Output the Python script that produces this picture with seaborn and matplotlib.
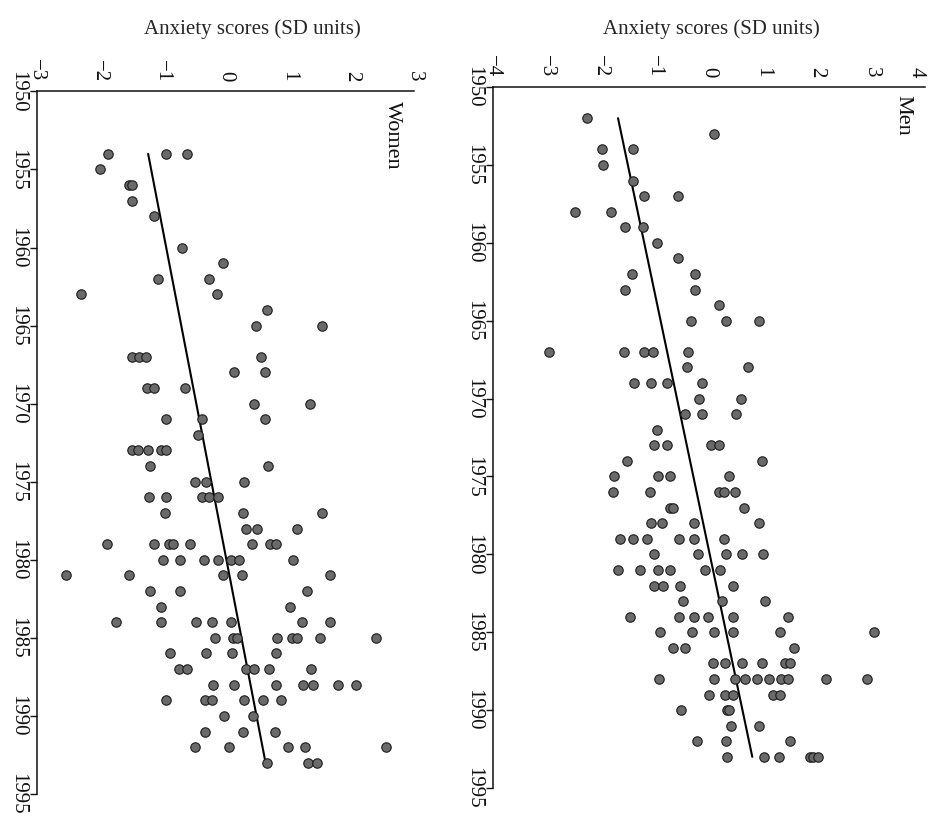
import numpy as np
import pandas as pd
import matplotlib
matplotlib.use("Agg")
import matplotlib.pyplot as plt
import matplotlib.transforms as mtransforms
import seaborn as sns

# ---------------- data ----------------
women_years = [1954, 1955, 1956, 1957, 1958, 1960, 1961, 1962, 1963, 1964,
               1965, 1967, 1968, 1969, 1970, 1971, 1972, 1973, 1974, 1975,
               1976, 1977, 1978, 1979, 1980, 1981, 1982, 1983, 1984, 1985,
               1986, 1987, 1988, 1989, 1990, 1991, 1992, 1993]
women_scores = [
    [-1.87, -0.94, -0.62],
    [-2.00],
    [-1.54, -1.49],
    [-1.49],
    [-1.14],
    [-0.69],
    [-0.04],
    [-1.08, -0.27],
    [-2.30, -0.14],
    [0.66],
    [0.49, 1.54],
    [-1.48, -1.37, -1.26, 0.57],
    [0.13, 0.63],
    [-1.25, -1.13, -0.64],
    [0.46, 1.34],
    [-0.94, -0.38, 0.63],
    [-0.44],
    [-1.48, -1.40, -1.23, -1.03, -0.95],
    [-1.20, 0.68],
    [-0.49, -0.31, 0.30],
    [-1.21, -0.94, -0.38, -0.26, -0.12],
    [-0.96, 0.28, 1.54],
    [0.32, 0.50, 1.13],
    [-1.88, -1.13, -0.90, -0.83, -0.57, 0.42, 0.71, 0.80],
    [-1.00, -0.72, -0.34, -0.12, 0.09, 0.21, 1.08],
    [-2.54, -1.53, -0.04, 0.27, 1.67],
    [-1.20, -0.72, 1.29],
    [-1.02, 1.02],
    [-1.75, -1.02, -0.47, -0.21, 0.08, 1.22, 1.67],
    [-0.16, 0.12, 0.18, 0.82, 1.06, 1.13, 1.51, 2.39],
    [-0.89, -0.31, 0.10, 0.80],
    [-0.74, -0.61, 0.32, 0.45, 0.69, 1.36],
    [-0.20, 0.14, 0.80, 1.23, 1.40, 1.79, 2.07],
    [-0.95, -0.33, -0.22, 0.30, 0.60, 0.88],
    [-0.03, 0.44],
    [-0.33, 0.28, 0.79],
    [-0.48, 0.05, 1.00, 1.27, 2.56],
    [0.66, 1.31, 1.46],
]

men_years = [1952, 1953, 1954, 1955, 1956, 1957, 1958, 1959, 1960, 1961,
             1962, 1963, 1964, 1965, 1967, 1968, 1969, 1970, 1971, 1972,
             1973, 1974, 1975, 1976, 1977, 1978, 1979, 1980, 1981, 1982,
             1983, 1984, 1985, 1986, 1987, 1988, 1989, 1990, 1991, 1992, 1993]
men_scores = [
    [-2.25],
    [0.10],
    [-1.98, -1.41],
    [-1.96],
    [-1.40],
    [-1.20, -0.57],
    [-2.48, -1.82],
    [-1.56, -1.23],
    [-0.96],
    [-0.57],
    [-1.43, -0.25],
    [-1.56, -0.26],
    [0.18],
    [-0.33, 0.31, 0.93],
    [-2.96, -1.57, -1.20, -1.04, -0.38],
    [-0.40, 0.73],
    [-1.38, -1.07, -0.78, -0.13],
    [-0.18, 0.59],
    [-0.44, -0.13, 0.51],
    [-0.97],
    [-1.01, -0.77, 0.04, 0.19],
    [-1.51, 0.99],
    [-1.75, -0.94, -0.72, 0.38],
    [-1.78, -1.09, 0.19, 0.27, 0.49],
    [-0.73, -0.66, 0.65],
    [-1.07, -0.87, -0.28, 0.92],
    [-1.65, -1.40, -1.14, -0.55, -0.28, 0.27],
    [-1.01, -0.20, 0.32, 0.62, 1.01],
    [-1.68, -1.28, -0.94, -0.72, -0.07, 0.20],
    [-1.01, -0.86, -0.54, 0.44],
    [-0.48, 0.25, 1.04],
    [-1.46, -0.55, -0.28, -0.02, 0.44, 1.47],
    [-0.91, -0.31, 0.09, 0.44, 1.31, 3.06],
    [-0.66, -0.44, 1.57],
    [0.07, 0.30, 0.61, 0.98, 1.41, 1.50],
    [-0.92, 0.09, 0.48, 0.67, 0.89, 1.11, 1.33, 1.47, 2.16, 2.92],
    [0.01, 0.30, 0.45, 1.19, 1.31],
    [-0.51, 0.34, 0.38],
    [0.40, 0.92],
    [-0.23, 0.31, 1.50],
    [0.33, 1.02, 1.30, 1.87, 1.93, 2.02],
]

year_ticks = [1950, 1955, 1960, 1965, 1970, 1975, 1980, 1985, 1990, 1995]
women_score_ticks = [-3, -2, -1, 0, 1, 2, 3]
men_score_ticks = [-4, -3, -2, -1, 0, 1, 2, 3, 4]
axis_title = "Anxiety scores (SD units)"


def to_frame(years, scores):
    rows = [(y, s) for y, ss in zip(years, scores) for s in ss]
    return pd.DataFrame(rows, columns=["year", "score"])


women_df = to_frame(women_years, women_scores)
men_df = to_frame(men_years, men_scores)

# ---------------- style ----------------
sns.set_style("ticks")
plt.rcParams["font.family"] = ["Liberation Serif", "DejaVu Serif"]
plt.rcParams["axes.unicode_minus"] = True

FS = 15
fig = plt.figure(figsize=(9.31, 8.16), dpi=100)
fig.patch.set_facecolor("white")
ax_w = fig.add_axes([0.0397, 0.027, 0.405, 0.861])
ax_m = fig.add_axes([0.5295, 0.0343, 0.464, 0.859])


def draw_panel(ax, df, xticks, name, label_xy, name_xy):
    sns.scatterplot(data=df, x="score", y="year", ax=ax, s=46,
                    color="#6a6a6a", edgecolor="#1c1c1c", linewidth=0.8,
                    zorder=3, legend=False)
    coef = np.polyfit(df["year"], df["score"], 1)
    yrs = np.array([df["year"].min(), df["year"].max()])
    ax.plot(np.polyval(coef, yrs), yrs, color="black", lw=1.5, zorder=2)

    ax.set_xlim(xticks[0], xticks[-1])
    ax.set_ylim(year_ticks[-1], year_ticks[0])
    ax.set_xticks(xticks)
    ax.set_yticks(year_ticks)
    ax.xaxis.tick_top()
    ax.xaxis.set_label_position("top")
    ax.set_ylabel("")
    ax.set_xlabel(axis_title, fontsize=FS)
    ax.xaxis.set_label_coords(*label_xy)
    ax.xaxis.label.set_va("center")

    sns.despine(ax=ax, top=False, right=True, bottom=True, left=False)
    for sp in ("top", "left"):
        ax.spines[sp].set_linewidth(1.1)
        ax.spines[sp].set_color("#111111")
    ax.tick_params(axis="both", direction="out", length=5, width=1.0,
                   pad=2, labelsize=FS, colors="#111111")
    ax.tick_params(axis="x", labelrotation=-90)
    ax.tick_params(axis="y", labelrotation=-90)
    for lbl in ax.get_yticklabels():
        lbl.set_va("center")
    ax.set_facecolor("white")
    ax.grid(False)

    ax.text(name_xy[0], name_xy[1], name, transform=ax.transAxes,
            rotation=-90, ha="center", va="top", fontsize=FS + 1,
            color="#111111")


draw_panel(ax_w, women_df, women_score_ticks, "Women",
           label_xy=(0.57, 1.088), name_xy=(0.942, 0.987))
draw_panel(ax_m, men_df, men_score_ticks, "Men",
           label_xy=(0.505, 1.082), name_xy=(0.949, 0.989))

# keep the last tick label of the right panel inside the figure
fig.canvas.draw()
last = ax_m.get_xticklabels()[-1]
last.set_transform(last.get_transform() +
                   mtransforms.ScaledTranslation(-6 / 72, 0, fig.dpi_scale_trans))

fig.savefig("out.png", dpi=100, facecolor="white")
